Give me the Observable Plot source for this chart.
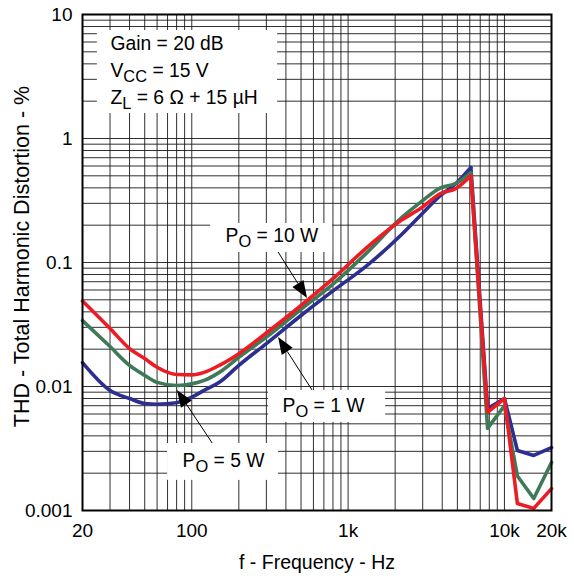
<!DOCTYPE html>
<html>
<head>
<meta charset="utf-8">
<script src="https://cdn.jsdelivr.net/npm/d3@7"></script>
<script src="https://cdn.jsdelivr.net/npm/@observablehq/plot@0.6"></script>
<style>
  html, body { margin: 0; padding: 0; background: #fff; }
  #chart { width: 574px; height: 578px; }
</style>
</head>
<body>
<div id="chart"></div>
<script>
// ---- data ----
const freq = [20, 30, 40, 50, 60, 80, 100, 120, 150, 200, 300, 500, 800, 1300, 2200, 2900, 3900, 4900, 6100, 7800, 10000, 12100, 15400, 20000];
const thd10W = [0.049, 0.0294, 0.0202, 0.0168, 0.0143, 0.0125, 0.0124, 0.013, 0.0148, 0.0184, 0.027, 0.045, 0.074, 0.13, 0.22, 0.272, 0.36, 0.395, 0.50, 0.0062, 0.008, 0.00114, 0.00104, 0.0015];
const thd5W  = [0.034, 0.021, 0.0148, 0.0123, 0.0108, 0.0102, 0.0105, 0.0112, 0.013, 0.0172, 0.025, 0.042, 0.067, 0.118, 0.23, 0.305, 0.40, 0.434, 0.53, 0.0046, 0.0070, 0.0019, 0.00125, 0.00244];
const thd1W  = [0.0156, 0.0093, 0.008, 0.0073, 0.0072, 0.0074, 0.0082, 0.0093, 0.0108, 0.0148, 0.0222, 0.0374, 0.059, 0.093, 0.168, 0.239, 0.347, 0.434, 0.583, 0.00665, 0.008, 0.00305, 0.00278, 0.00322];

const xTicks = [20, 100, 1000, 10000, 20000];
const xTickLabels = ["20", "100", "1k", "10k", "20k"];
const yTicks = [0.001, 0.01, 0.1, 1, 10];
const yTickLabels = ["0.001", "0.01", "0.1", "1", "10"];

const xTitle = "f - Frequency - Hz";
const yTitle = "THD - Total Harmonic Distortion - %";

// annotation boxes (data coordinates)
const boxes = [
  {x1: 24.9, x2: 354, y1: 1.59, y2: 7.43},
  {x1: 132, x2: 796, y1: 0.1205, y2: 0.2065},
  {x1: 310, x2: 1738, y1: 0.00513, y2: 0.0093},
  {x1: 70, x2: 359, y1: 0.00175, y2: 0.00347}
];
const labels = [
  {f: 30.2, v: 5.84, text: "Gain = 20 dB"},
  {f: 30.2, v: 3.53, text: "V_{CC} = 15 V"},
  {f: 30.2, v: 2.14, text: "Z_{L} = 6 \u03A9 + 15 \u00B5H"},
  {f: 164.5, v: 0.165, text: "P_{O} = 10 W"},
  {f: 381, v: 0.00703, text: "P_{O} = 1 W"},
  {f: 87.3, v: 0.00253, text: "P_{O} = 5 W"}
];
const arrows = [
  {f1: 359, v1: 0.1205, f2: 550, v2: 0.0513},
  {f1: 592, v1: 0.0093, f2: 359, v2: 0.0248},
  {f1: 136, v1: 0.00347, f2: 81, v2: 0.0093}
];

// grid lines (1..9 per decade)
const xGrid = [];
for (let d = 10; d <= 10000; d *= 10) for (let k = 1; k <= 9; k++) { const v = k * d; if (v >= 20 && v <= 20000) xGrid.push(v); }
xGrid.push(20000);
const yGrid = [];
for (let d = 0.001; d < 10; d *= 10) for (let k = 1; k <= 9; k++) yGrid.push(+(k * d).toPrecision(3));
yGrid.push(10);

const series = [
  {name: "1 W", values: thd1W, color: "#2c2f8f"},
  {name: "5 W", values: thd5W, color: "#3f7a58"},
  {name: "10 W", values: thd10W, color: "#ec1c24"}
];
const rows = series.flatMap(s => freq.map((f, i) => ({f, v: s.values[i], s: s.name, color: s.color})));
const peakF = 6100; // smooth part up to the peak, straight segments after it
const smoothRows = rows.filter(d => d.f <= peakF);
const sharpRows = rows.filter(d => d.f >= peakF);

const xLabelOf = new Map(xTicks.map((t, i) => [t, xTickLabels[i]]));
const yLabelOf = new Map(yTicks.map((t, i) => [t, yTickLabels[i]]));

const font = "'Liberation Sans', Arial, Helvetica, sans-serif";

function arrowMark(index, scales) {
  const g = d3.create("svg:g");
  for (const a of arrows) {
    const x1 = scales.x(a.f1), y1 = scales.y(a.v1), x2 = scales.x(a.f2), y2 = scales.y(a.v2);
    const dx = x2 - x1, dy = y2 - y1, L = Math.hypot(dx, dy);
    const ux = dx / L, uy = dy / L;
    const hl = 17, hw = 6.5;
    const bx = x2 - ux * hl, by = y2 - uy * hl;
    g.append("line").attr("x1", x1).attr("y1", y1).attr("x2", bx).attr("y2", by)
      .attr("stroke", "#000").attr("stroke-width", 1);
    g.append("path")
      .attr("d", `M${x2},${y2}L${bx - uy * hw},${by + ux * hw}L${bx + uy * hw},${by - ux * hw}Z`)
      .attr("fill", "#000");
  }
  return g.node();
}

const lineStyle = {x: "f", y: "v", z: "s", stroke: "color", strokeWidth: 3.6, strokeLinejoin: "round", strokeLinecap: "round"};

const plot = Plot.plot({
  width: 574,
  height: 578,
  marginLeft: 82,
  marginRight: 23,
  marginTop: 14,
  marginBottom: 68,
  style: {fontFamily: font, fontSize: "19px", color: "#000", background: "#fff"},
  x: {type: "log", domain: [20, 20000]},
  y: {type: "log", domain: [0.001, 10]},
  marks: [
    Plot.ruleX(xGrid, {stroke: "#1a1a1a", strokeWidth: 1, strokeOpacity: 0.9}),
    Plot.ruleY(yGrid, {stroke: "#1a1a1a", strokeWidth: 1, strokeOpacity: 0.9}),
    Plot.rect(boxes, {x1: "x1", x2: "x2", y1: "y1", y2: "y2", fill: "#fff"}),
    Plot.line(sharpRows.filter(d => d.s === "1 W"), {...lineStyle, curve: "linear"}),
    Plot.line(smoothRows.filter(d => d.s === "1 W"), {...lineStyle, curve: "monotone-x"}),
    Plot.line(sharpRows.filter(d => d.s === "5 W"), {...lineStyle, curve: "linear"}),
    Plot.line(smoothRows.filter(d => d.s === "5 W"), {...lineStyle, curve: "monotone-x"}),
    Plot.line(sharpRows.filter(d => d.s === "10 W"), {...lineStyle, curve: "linear"}),
    Plot.line(smoothRows.filter(d => d.s === "10 W"), {...lineStyle, curve: "monotone-x"}),
    Plot.text(labels, {x: "f", y: "v", text: "text", textAnchor: "start", fill: "#000", fontSize: 19.3}),
    arrowMark,
    Plot.axisX(xTicks, {tickSize: 0, tickPadding: 13, tickFormat: d => xLabelOf.get(d), fontSize: 19}),
    Plot.axisY(yTicks, {tickSize: 0, tickPadding: 10, tickFormat: d => yLabelOf.get(d), fontSize: 19}),
    Plot.text([xTitle], {frameAnchor: "bottom", lineAnchor: "middle", dy: 52, fontSize: 19.5}),
    Plot.text([yTitle], {frameAnchor: "left", textAnchor: "middle", lineAnchor: "middle", dx: -60, dy: -6, rotate: -90, fontSize: 21.5}),
    Plot.frame({stroke: "#000", strokeWidth: 2})
  ]
});

// subscripts: "X_{sub}" -> tspans
d3.select(plot).selectAll("text").each(function() {
  const t = this.textContent;
  if (!t.includes("_{")) return;
  const m = t.match(/^(.*?)_\{(.*?)\}(.*)$/);
  if (!m) return;
  const sel = d3.select(this);
  sel.text(null);
  sel.append("tspan").text(m[1]);
  sel.append("tspan").attr("dy", 5).attr("font-size", "0.85em").text(m[2]);
  sel.append("tspan").attr("dy", -5).text(m[3]);
});

document.getElementById("chart").appendChild(plot);
</script>
</body>
</html>
